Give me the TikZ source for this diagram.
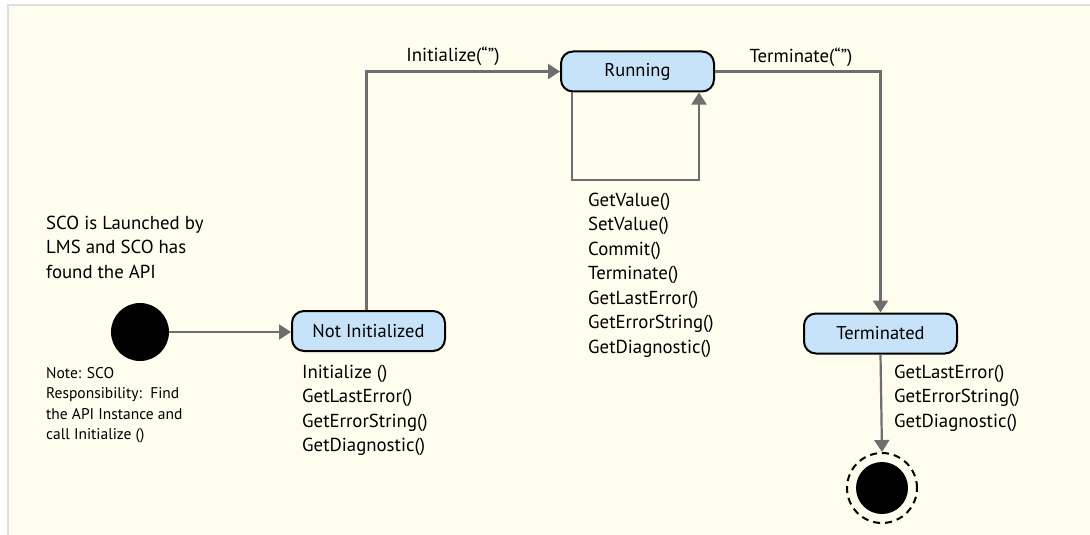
\documentclass[tikz,border=0pt]{standalone}
\usepackage{fontspec}
\setmainfont{PT Sans}
\usetikzlibrary{arrows.meta}
\definecolor{bgc}{HTML}{FEFDEE}
\definecolor{edgec}{HTML}{DEDEDE}
\definecolor{stboxc}{HTML}{C7E3FA}
\definecolor{connc}{HTML}{6E6E6E}
\begin{document}
\begin{tikzpicture}[x=1pt,y=-1pt,
  state/.style={draw=black, line width=2pt, fill=stboxc, rounded corners=12pt,
    minimum width=153pt, minimum height=40pt, inner sep=0pt,
    font=\fontsize{18.5}{22}\selectfont},
  conn/.style={draw=connc, line width=2.2pt, -{Triangle[length=12pt,width=15pt]}},
  lbl/.style={anchor=base west, inner sep=0pt, font=\fontsize{18.8}{24}\selectfont},
  notelbl/.style={anchor=base west, inner sep=0pt, font=\fontsize{15.5}{20}\selectfont}]
\useasboundingbox (0,0) rectangle (1090,535);
\fill[white] (0,0) rectangle (1090,535);
\fill[bgc] (8,5) rectangle (1090,535);
\draw[edgec, line width=2pt] (8,535) -- (8,5) -- (1090,5);

\node[circle, fill=black, minimum size=58pt, inner sep=0pt] (init) at (140,332) {};
\node[state] (ni) at (368.5,331) {Not Initialized};
\node[state] (run) at (637.5,71.5) {Running};
\node[state] (term) at (880.5,333.5) {Terminated};
\node[circle, draw=black, dash pattern=on 7pt off 5pt, line width=2pt, minimum size=70pt, inner sep=0pt] (fin) at (882,488) {};
\node[circle, fill=black, minimum size=52pt, inner sep=0pt] (finc) at (fin) {};

\draw[conn] (init.east) -- (init.east -| ni.west);
\draw[conn] ([xshift=-2pt]ni.north) |- (run.west);
\draw[conn] ([xshift=-65.5pt]run.south) -- ++(0,87.5) -| ([xshift=61.5pt]run.south);
\draw[conn] (run.east) -| (term.north);
\draw[conn] (term.south) -- (fin.north);

\node[lbl, anchor=base] (linit) at (453,62) {Initialize(“”)};
\node[lbl, anchor=base] (lterm) at (801,63) {Terminate(“”)};

\foreach \t [count=\i] in {SCO is Launched by, LMS and SCO has, found the API}
  \node[lbl] (sco\i) at (46,{229+24.5*(\i-1)}) {\t};
\foreach \t [count=\i] in {Note: SCO, Responsibility:\ \ Find, the API Instance and, call Initialize ()}
  \node[notelbl] (note\i) at (46,{378+20.5*(\i-1)}) {\t};
\foreach \t [count=\i] in {Initialize (), GetLastError(), GetErrorString(), GetDiagnostic()}
  \node[lbl] (nil\i) at (302,{378+24.5*(\i-1)}) {\t};
\foreach \t [count=\i] in {GetValue(), SetValue(), Commit(), Terminate(), GetLastError(), GetErrorString(), GetDiagnostic()}
  \node[lbl] (rl\i) at (588,{206+24.5*(\i-1)}) {\t};
\foreach \t [count=\i] in {GetLastError(), GetErrorString(), GetDiagnostic()}
  \node[lbl] (tl\i) at (894,{378+24.5*(\i-1)}) {\t};
\end{tikzpicture}
\end{document}
